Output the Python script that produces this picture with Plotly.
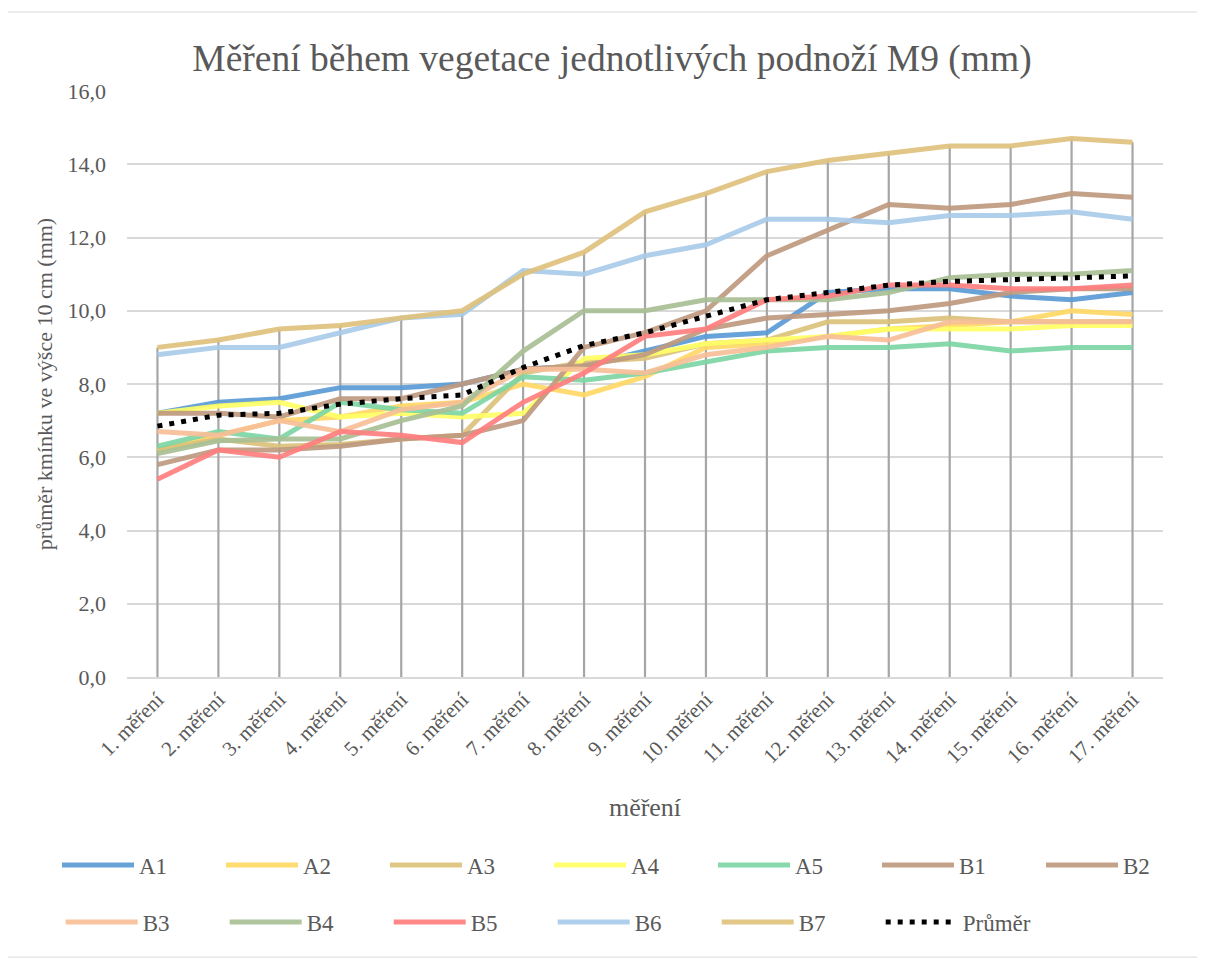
import numpy as np
import plotly.graph_objects as go

categories = [f"{i}. měření" for i in range(1, 18)]

a1 = [7.2, 7.5, 7.6, 7.9, 7.9, 8.0, 8.4, 8.5, 8.9, 9.3, 9.4, 10.5, 10.6, 10.6, 10.4, 10.3, 10.5]
a2 = [6.2, 6.6, 7.0, 7.1, 7.4, 7.5, 8.0, 7.7, 8.2, 9.0, 9.1, 9.3, 9.5, 9.6, 9.7, 10.0, 9.9]
a3 = [6.2, 6.5, 6.3, 6.35, 6.5, 6.6, 8.3, 8.6, 8.7, 9.1, 9.2, 9.7, 9.7, 9.8, 9.7, 9.7, 9.7]
a4 = [7.2, 7.4, 7.5, 7.1, 7.2, 7.1, 7.2, 8.7, 8.8, 9.1, 9.2, 9.3, 9.5, 9.5, 9.5, 9.6, 9.6]
a5 = [6.3, 6.7, 6.5, 7.5, 7.3, 7.2, 8.2, 8.1, 8.3, 8.6, 8.9, 9.0, 9.0, 9.1, 8.9, 9.0, 9.0]
b1 = [7.2, 7.2, 7.1, 7.6, 7.6, 8.0, 8.4, 8.5, 8.8, 9.5, 9.8, 9.9, 10.0, 10.2, 10.5, 10.6, 10.6]
b2 = [5.8, 6.2, 6.2, 6.3, 6.5, 6.6, 7.0, 9.0, 9.4, 10.0, 11.5, 12.2, 12.9, 12.8, 12.9, 13.2, 13.1]
b3 = [6.7, 6.6, 7.0, 6.7, 7.3, 7.5, 8.4, 8.4, 8.3, 8.8, 9.0, 9.3, 9.2, 9.7, 9.7, 9.7, 9.7]
b4 = [6.1, 6.45, 6.5, 6.5, 7.0, 7.4, 8.9, 10.0, 10.0, 10.3, 10.3, 10.3, 10.5, 10.9, 11.0, 11.0, 11.1]
b5 = [5.4, 6.2, 6.0, 6.7, 6.6, 6.4, 7.5, 8.3, 9.3, 9.5, 10.3, 10.4, 10.7, 10.7, 10.6, 10.6, 10.7]
b6 = [8.8, 9.0, 9.0, 9.4, 9.8, 9.9, 11.1, 11.0, 11.5, 11.8, 12.5, 12.5, 12.4, 12.6, 12.6, 12.7, 12.5]
b7 = [9.0, 9.2, 9.5, 9.6, 9.8, 10.0, 11.0, 11.6, 12.7, 13.2, 13.8, 14.1, 14.3, 14.5, 14.5, 14.7, 14.6]
prumer = [6.85, 7.15, 7.2, 7.45, 7.6, 7.7, 8.45, 9.05, 9.4, 9.85, 10.3, 10.5, 10.7, 10.8, 10.85, 10.9, 10.95]

series = [
    ("A1", a1, "#5B9BD5"),
    ("A2", a2, "#FFD966"),
    ("A3", a3, "#DCC27A"),
    ("A4", a4, "#FFFF66"),
    ("A5", a5, "#7DD6A5"),
    ("B1", b1, "#BF9A80"),
    ("B2", b2, "#BF9A80"),
    ("B3", b3, "#F8BF98"),
    ("B4", b4, "#A9C095"),
    ("B5", b5, "#FF7F7F"),
    ("B6", b6, "#A9CBEA"),
    ("B7", b7, "#DFC27D"),
]

FONT = "Liberation Serif"
GREY = "#595959"

fig = go.Figure()

# drop lines: from the axis up to the highest value of every category
tops = np.max([s[1] for s in series] + [prumer], axis=0)
drop_x, drop_y = [], []
for cat, top in zip(categories, tops):
    drop_x += [cat, cat, None]
    drop_y += [0, top, None]
fig.add_scatter(
    x=drop_x, y=drop_y, mode="lines",
    line={"color": "#A6A6A6", "width": 2.2},
    hoverinfo="skip", showlegend=False,
)

for i, (name, values, color) in enumerate(series):
    fig.add_scatter(
        x=categories, y=values, mode="lines", name=name,
        line={"color": color, "width": 5},
        opacity=0.92,
        legend="legend" if i < 7 else "legend2",
    )

fig.add_scatter(
    x=categories, y=prumer, mode="lines", name="Průměr",
    line={"color": "black", "width": 5, "dash": "5px,7px"},
    legend="legend2",
)

legend_style = dict(
    orientation="h", xanchor="left", yanchor="middle",
    entrywidth=77, entrywidthmode="pixels", itemwidth=72,
    font={"family": FONT, "size": 23, "color": GREY},
    bgcolor="rgba(0,0,0,0)",
)

# the page body adds 8px, so the figure is 8px smaller than the window
fig.update_layout(
    width=1197, height=950,
    margin={"l": 119, "r": 42, "t": 83, "b": 281},
    paper_bgcolor="white", plot_bgcolor="white",
    separators=", ",
    title={
        "text": "Měření během vegetace jednotlivých podnoží M9 (mm)",
        "x": 0.5046, "xanchor": "center", "y": 0.948, "yanchor": "middle",
        "font": {"family": FONT, "size": 37.5, "color": GREY},
    },
    font={"family": FONT, "color": GREY},
    legend={**legend_style, "x": -0.064, "y": -0.3208},
    legend2={**legend_style, "x": -0.064, "y": -0.418},
    shapes=[{
        "type": "rect", "xref": "paper", "yref": "paper",
        "x0": -0.1187, "x1": 1.0396, "y0": -0.478, "y1": 1.1348,
        "line": {"color": "#D9D9D9", "width": 1},
    }],
)

fig.update_xaxes(
    type="category", range=[-0.5, 16.5],
    tickangle=-45, tickfont={"family": FONT, "size": 21, "color": GREY},
    showgrid=False, showline=True, linecolor="#D9D9D9", linewidth=2,
    ticks="",
    title={"text": "měření", "font": {"family": FONT, "size": 26, "color": GREY}, "standoff": 31},
)
fig.update_yaxes(
    range=[0, 16], dtick=2, tickformat=".1f",
    tickfont={"family": FONT, "size": 22, "color": GREY},
    showgrid=True, gridcolor="#D9D9D9", gridwidth=2,
    zeroline=False, showline=False, ticks="", ticklabelstandoff=20,
    title={"text": "průměr kmínku ve výšce 10 cm (mm)",
           "font": {"family": FONT, "size": 22, "color": GREY}, "standoff": 8},
)

fig.write_html("out.html")
